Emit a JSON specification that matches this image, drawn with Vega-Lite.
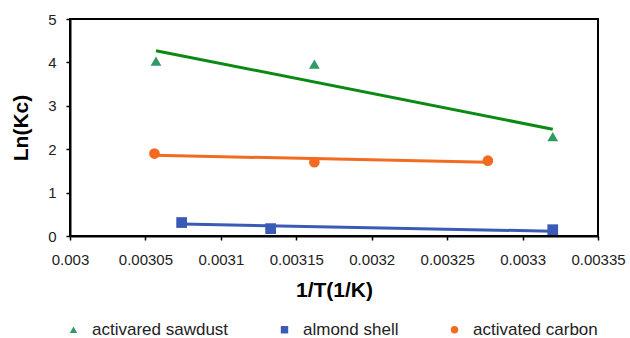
{
  "$schema": "https://vega.github.io/schema/vega-lite/v6.json",
  "autosize": "none",
  "width": 528,
  "height": 217,
  "padding": {"left": 70, "top": 19, "right": 32, "bottom": 102},
  "background": "white",
  "config": {
    "font": "Liberation Sans",
    "view": {"stroke": "black", "strokeWidth": 2},
    "axis": {"grid": false, "domainColor": "black", "domainWidth": 2, "tickColor": "black", "tickWidth": 1.5, "tickSize": 4, "labelColor": "#222", "labelFontSize": 15, "titleColor": "black", "titleFont": "Liberation Sans", "titleFontWeight": "bold", "titleFontSize": 21}
  },
  "data": {
    "values": [
      {"series": "activared sawdust", "kind": "point", "x": 0.003057, "y": 4.03},
      {"series": "activared sawdust", "kind": "point", "x": 0.003162, "y": 3.96},
      {"series": "activared sawdust", "kind": "point", "x": 0.003320, "y": 2.29},
      {"series": "almond shell", "kind": "point", "x": 0.003074, "y": 0.31},
      {"series": "almond shell", "kind": "point", "x": 0.003133, "y": 0.17},
      {"series": "almond shell", "kind": "point", "x": 0.003320, "y": 0.145},
      {"series": "activated carbon", "kind": "point", "x": 0.003056, "y": 1.90},
      {"series": "activated carbon", "kind": "point", "x": 0.003162, "y": 1.70},
      {"series": "activated carbon", "kind": "point", "x": 0.003277, "y": 1.735},
      {"series": "activared sawdust", "kind": "fit", "x": 0.003057, "y": 4.27},
      {"series": "activared sawdust", "kind": "fit", "x": 0.003320, "y": 2.46},
      {"series": "almond shell", "kind": "fit", "x": 0.003074, "y": 0.275},
      {"series": "almond shell", "kind": "fit", "x": 0.003320, "y": 0.11},
      {"series": "activated carbon", "kind": "fit", "x": 0.003056, "y": 1.86},
      {"series": "activated carbon", "kind": "fit", "x": 0.003277, "y": 1.70}
    ]
  },
  "layer": [
    {
      "transform": [{"filter": "datum.kind === 'fit'"}],
      "mark": {"type": "line", "strokeWidth": 3},
      "encoding": {
        "x": {"field": "x", "type": "quantitative"},
        "y": {"field": "y", "type": "quantitative"},
        "detail": {"field": "series"},
        "stroke": {"condition": [
          {"test": "datum.series === 'activared sawdust'", "value": "#0a8a12"},
          {"test": "datum.series === 'almond shell'", "value": "#3a5bb5"}
        ], "value": "#f26b21"}
      }
    },
    {
      "transform": [{"filter": "datum.kind === 'point'"}],
      "mark": {"type": "point", "filled": true, "opacity": 1, "size": 115},
      "encoding": {
        "x": {"field": "x", "type": "quantitative", "title": "1/T(1/K)",
          "scale": {"domain": [0.003, 0.00335], "nice": false, "zero": false},
          "axis": {"values": [0.003, 0.00305, 0.0031, 0.00315, 0.0032, 0.00325, 0.0033, 0.00335], "format": "~g", "labelPadding": 12, "titlePadding": 12, "labelFlush": false}},
        "y": {"field": "y", "type": "quantitative", "title": "Ln(Kc)",
          "scale": {"domain": [0, 5], "nice": false},
          "axis": {"values": [0, 1, 2, 3, 4, 5], "labelPadding": 10, "titlePadding": 16, "labelFlush": false}},
        "color": {"field": "series", "type": "nominal",
          "scale": {"domain": ["activared sawdust", "almond shell", "activated carbon"], "range": ["#2e9a64", "#3a5bb5", "#f26b21"]},
          "legend": {"title": null, "orient": "none", "legendX": -5, "legendY": 302, "direction": "horizontal", "padding": 0,
            "labelFontSize": 17, "labelColor": "#222", "labelOffset": 10, "columnPadding": 47, "symbolSize": 55, "symbolStrokeWidth": 0}},
        "shape": {"field": "series", "type": "nominal",
          "scale": {"domain": ["activared sawdust", "almond shell", "activated carbon"], "range": ["triangle-up", "square", "circle"]},
          "legend": {"title": null, "orient": "none", "legendX": -5, "legendY": 302, "direction": "horizontal", "padding": 0,
            "labelFontSize": 17, "labelColor": "#222", "labelOffset": 10, "columnPadding": 47, "symbolSize": 55, "symbolStrokeWidth": 0}}
      }
    }
  ]
}
